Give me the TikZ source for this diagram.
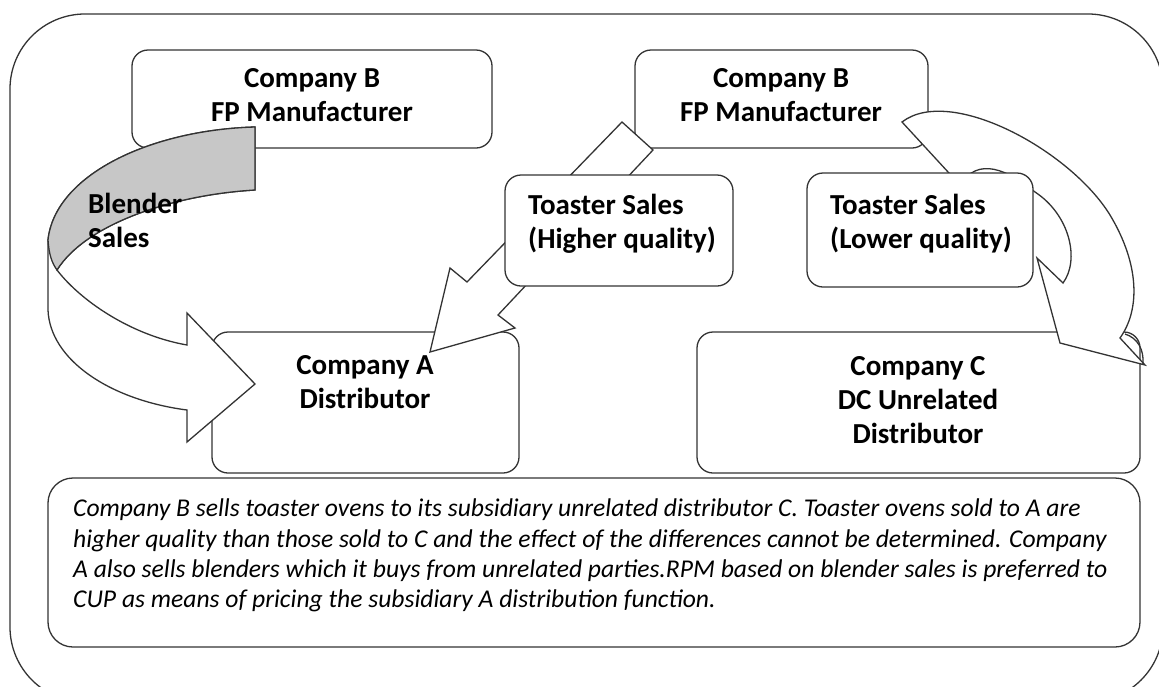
\documentclass[tikz,border=0pt]{standalone}
\usepackage{fontspec}
\setmainfont{Carlito}
\usepackage{tikz}

\tikzset{
  frame/.style={draw=black!80, line width=1.3pt, rounded corners=75pt},
  box/.style={draw=black!80, line width=1.3pt, rounded corners=16pt, fill=white},
  blockarrow/.style={draw=black!80, line width=1.3pt, fill=white, line join=miter},
  boxtext/.style={font=\bfseries\fontsize{29}{34}\selectfont, align=center, inner sep=0pt},
  notetext/.style={font=\itshape\fontsize{25.6}{30.3}\selectfont, align=left, inner sep=0pt},
}

\begin{document}
\begin{tikzpicture}[x=1pt, y=-1pt]
    \useasboundingbox (0,0) rectangle (1159,686);

    % Outer frame
    \draw[frame] (10,14) rectangle (1163,702);

    % Boxes behind the arrows
    \node[box, minimum width=360pt, minimum height=98pt] (bleft) at (312,99) {};
    \node[box, minimum width=293pt, minimum height=98pt] (bright) at (781.5,99) {};
    \node[box, minimum width=307pt, minimum height=141pt] (compa) at (365.5,402.5) {};
    \node[box, minimum width=443pt, minimum height=141pt] (compc) at (918.5,402.5) {};
    \node[box, rounded corners=25pt, minimum width=1092pt, minimum height=169pt] (note) at (594,562.5) {};

    % Blender sales arrow
    \draw[blockarrow] (255,127) .. controls (150,130) and (55,175) .. (48,240) -- (48,310)
        .. controls (50,360) and (110,400) .. (187,410) -- (187,442) -- (255,384) -- (187,313) -- (187,345)
        .. controls (130,335) and (80,300) .. (57,270) .. controls (85,225) and (170,195) .. (255,190) -- cycle;
    \draw[blockarrow, fill=black!22] (255,127) .. controls (150,130) and (55,175) .. (48,240)
        .. controls (49,255) and (52,263) .. (57,270) .. controls (85,225) and (170,195) .. (255,190) -- cycle;

    % Higher quality arrow
    \draw[blockarrow] (622,122) -- (467,282) -- (450,268) -- (430,352) -- (515,328) -- (498,315) -- (653,150) -- cycle;

    % Lower quality arrow
    \draw[blockarrow] (902,122) .. controls (950,85) and (1070,150) .. (1110,215)
        .. controls (1140,265) and (1140,310) .. (1120,338) -- (1145,365) -- (1060,343) -- (1037,258) -- (1063,283)
        .. controls (1080,260) and (1070,215) .. (1035,192) .. controls (1008,170) and (978,156) .. (960,185) -- cycle;
    \draw[blockarrow, fill=none] (1125,334) .. controls (1138,338) and (1144,350) .. (1143,364);

    % Toaster boxes in front
    \node[box, minimum width=228pt, minimum height=111pt] (thigh) at (619,230.5) {};
    \node[box, minimum width=226pt, minimum height=114pt] (tlow) at (920,230) {};

    % Texts
    \node[boxtext] (blefttext) at (312,95.5) {Company B\\FP Manufacturer};
    \node[boxtext] (brighttext) at (781,95.5) {Company B\\FP Manufacturer};
    \node[boxtext, align=left, anchor=west] (thightext) at (528,224) {Toaster Sales\\(Higher quality)};
    \node[boxtext, align=left, anchor=west] (tlowtext) at (830,224) {Toaster Sales\\(Lower quality)};
    \node[boxtext] (compatext) at (365,382.5) {Company A\\Distributor};
    \node[boxtext] (compctext) at (918,400) {Company C\\DC Unrelated\\Distributor};
    \node[boxtext, align=left, anchor=west] (blender) at (88,220) {Blender\\Sales};
    \node[notetext, anchor=west] (notetext) at (73,555.5) {Company B sells toaster ovens to its subsidiary unrelated distributor C. Toaster ovens sold to A are\\
        higher quality than those sold to C and the effect of the differences cannot be determined. Company\\
        A also sells blenders which it buys from unrelated parties.RPM based on blender sales is preferred to\\
        CUP as means of pricing the subsidiary A distribution function.};
\end{tikzpicture}
\end{document}
